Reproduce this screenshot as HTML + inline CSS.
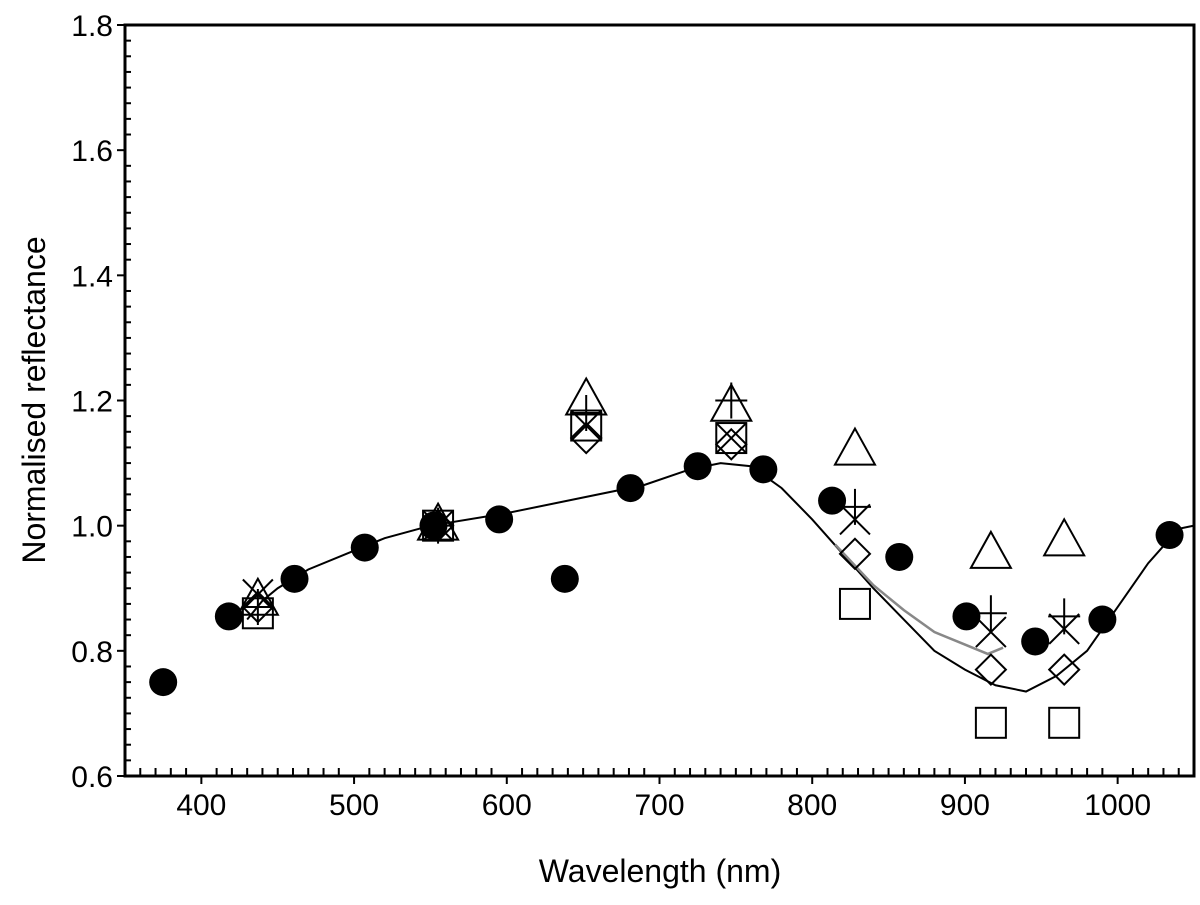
<!DOCTYPE html>
<html><head><meta charset="utf-8"><style>
body{margin:0;background:#fff}
svg text{font-family:"Liberation Sans",sans-serif;fill:#000}
</style></head><body>
<svg id="chart" width="1200" height="900" xmlns="http://www.w3.org/2000/svg">
<g id="axes"></g>
<g id="marks"></g>
<text x="660" y="882" font-size="32" text-anchor="middle">Wavelength (nm)</text>
<text transform="translate(45,400) rotate(-90)" font-size="32" text-anchor="middle">Normalised reflectance</text>
</svg>
<script>
const circleX=[375,418,461,507,552,595,638,681,725,768,813,857,901,946,990,1034];
const circleY=[0.75,0.855,0.915,0.965,1.0,1.01,0.915,1.06,1.095,1.09,1.04,0.95,0.855,0.815,0.85,0.985];
const bandX=[437,555,652,747,828,917,965];
const triY=[0.88,1.0,1.2,1.19,1.12,0.955,0.975];
const plusY=[0.87,1.0,1.18,1.2,1.03,0.86,0.855];
const crossY=[0.89,1.0,1.16,1.14,1.01,0.83,0.835];
const diamondY=[0.87,1.0,1.14,1.13,0.955,0.77,0.77];
const squareY=[0.86,1.0,1.16,1.14,0.875,0.685,0.685];
const lineX=[430,440,450,470,500,520,550,600,650,690,720,740,760,780,800,820,840,860,880,900,920,940,960,980,1000,1020,1040,1050];
const lineY=[0.85,0.88,0.9,0.93,0.96,0.98,1.0,1.02,1.045,1.065,1.09,1.1,1.095,1.06,1.01,0.955,0.9,0.85,0.8,0.77,0.745,0.735,0.76,0.8,0.87,0.94,0.995,1.0];
const grayX=[815,840,860,880,900,915,925];
const grayY=[0.97,0.905,0.865,0.83,0.81,0.795,0.805];
const xTicks=[400,500,600,700,800,900,1000];
const yTicks=[0.6,0.8,1.0,1.2,1.4,1.6,1.8];

const L=125,R=1194,T=25,B=776;
const xs=v=>L+(v-350)*(R-L)/700;
const ys=v=>B-(v-0.6)*(B-T)/1.2;
const NS='http://www.w3.org/2000/svg';
function mk(parent,tag,attrs){const e=document.createElementNS(NS,tag);for(const k in attrs)e.setAttribute(k,attrs[k]);parent.appendChild(e);return e;}
const ax=document.getElementById('axes'),mg=document.getElementById('marks');
let f=mk(ax,'rect',{x:L,y:T,width:R-L,height:B-T,fill:'none',stroke:'#000','stroke-width':3});


for(let v=350;v<=1050;v+=10){const x=xs(v);const major=v%100===0;
 let t=mk(ax,'line',{x1:x,x2:x,y1:B,y2:B-(major?0:8),stroke:'#000','stroke-width':2});
 if(major){t.setAttribute('y1',B+8);t.setAttribute('y2',B);}
 
 }
xTicks.forEach(v=>{let t=mk(ax,'text',{x:xs(v),y:815,'font-size':30,'text-anchor':'middle'});t.textContent=v;
 
 });
for(let i=0;i<=48;i++){const v=0.6+i*0.025;const y=ys(v);const major=i%8===0;
 let t=mk(ax,'line',{x1:major?L-8:L,x2:L+(major?0:6),y1:y,y2:y,stroke:'#000','stroke-width':2});
 
 }
yTicks.forEach(v=>{let t=mk(ax,'text',{x:113,y:ys(v)+11,'font-size':30,'text-anchor':'end'});t.textContent=v.toFixed(1);
 
 });
function poly(xa,ya,col,w,name){let p=mk(mg,'polyline',{points:xa.map((x,i)=>xs(x)+','+ys(ya[i])).join(' '),fill:'none',stroke:col,'stroke-width':w});
 
 }
poly(lineX,lineY,'#000',2,'spectrum-line');
poly(grayX,grayY,'#888',2.5,'spectrum-line-gray');
const st={fill:'none',stroke:'#000','stroke-width':2};
bandX.forEach((b,i)=>{const x=xs(b);
 let y=ys(squareY[i]);let s=mk(mg,'rect',Object.assign({x:x-15,y:y-15,width:30,height:30},st));
 
 
 y=ys(diamondY[i]);let d=mk(mg,'polygon',Object.assign({points:`${x},${y-15} ${x+15},${y} ${x},${y+15} ${x-15},${y}`},st));
 
 
 y=ys(triY[i]);let t=mk(mg,'polygon',Object.assign({points:`${x},${y-22} ${x+20},${y+14} ${x-20},${y+14}`},st));
 
 
 y=ys(plusY[i]);let p=mk(mg,'path',Object.assign({d:`M${x-16},${y}H${x+16}M${x},${y-18}V${y+18}`},st));
 
 
 y=ys(crossY[i]);let c=mk(mg,'path',Object.assign({d:`M${x-15},${y-15}L${x+15},${y+15}M${x+15},${y-15}L${x-15},${y+15}`},st));
 
 
});
circleX.forEach((v,i)=>{let c=mk(mg,'circle',{cx:xs(v),cy:ys(circleY[i]),r:14,fill:'#000'});
 
 });
</script>
</body></html>
